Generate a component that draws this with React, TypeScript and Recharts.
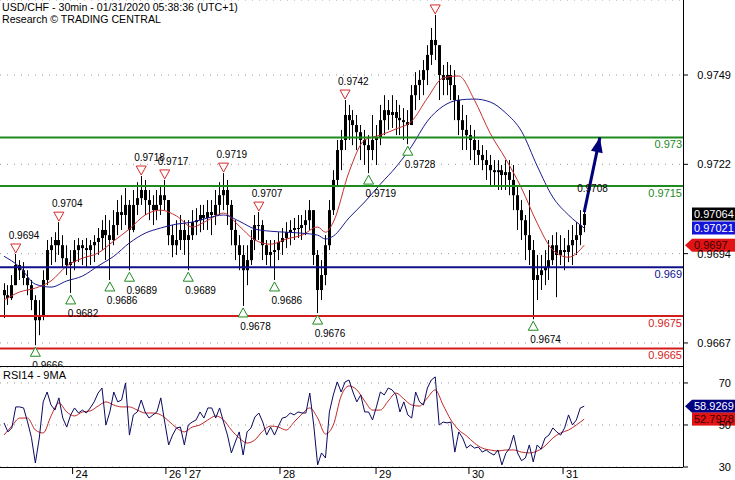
import React from "react";
import {
  ComposedChart,
  Bar,
  Line,
  XAxis,
  YAxis,
  CartesianGrid,
  ReferenceLine,
  ReferenceDot,
} from "recharts";

const FONT = '"Liberation Sans", Arial, sans-serif';
const W = 735;
const MAIN_H = 367;
const RSI_H = 113;
const AXIS_W = 52;

// x = hours since the first bar (hourly bars, Jan 23 -> Jan 31)
const X_MIN = -1.02;
const X_MAX = 173.2;
const P_MIN = 0.96593;
const P_MAX = 0.97723;
const PRICE_TICKS = [0.97492, 0.97217, 0.96942, 0.96667];
const RSI_MIN = 30;
const RSI_MAX = 77.6;
const RSI_TICKS = [30, 50, 70];

const DAY_T = [17.5, 41.3, 46.4, 70.4, 94.9, 118.6, 142.6];
const DAY_LABEL = ["24", "26", "27", "28", "29", "30", "31"];

const FIRST_OPEN = 0.9683;
const HIGH = [
  0.96851, 0.96845, 0.96876, 0.96941, 0.96922, 0.96916, 0.96891, 0.96861, 0.96814, 0.96799,
  0.96891, 0.96984, 0.96993, 0.97008, 0.97039, 0.96999, 0.96968, 0.96953, 0.96984, 0.9699,
  0.96984, 0.9699, 0.96984, 0.96999, 0.97021, 0.97045, 0.97061, 0.97045, 0.97076, 0.97107,
  0.97122, 0.97144, 0.97107, 0.97138, 0.97162, 0.97181, 0.97169, 0.97138, 0.97122, 0.97138,
  0.97153, 0.97169, 0.97107, 0.9703, 0.97045, 0.97061, 0.97045, 0.97045, 0.97076, 0.97082,
  0.97092, 0.97092, 0.97107, 0.97107, 0.97138, 0.97162, 0.9719, 0.97169, 0.97107, 0.97045,
  0.96999, 0.96968, 0.96968, 0.97015, 0.97061, 0.9707, 0.97045, 0.96984, 0.96984, 0.96984,
  0.97008, 0.97021, 0.97039, 0.97045, 0.97052, 0.97061, 0.97061, 0.97076, 0.97107, 0.97076,
  0.96953, 0.96922, 0.96999, 0.97107, 0.97199, 0.97292, 0.97323, 0.97415, 0.974, 0.97384,
  0.97369, 0.97338, 0.97323, 0.97307, 0.97369, 0.97338, 0.974, 0.9743, 0.97415, 0.9743,
  0.97415, 0.974, 0.9739, 0.97384, 0.97461, 0.97501, 0.97507, 0.97538, 0.97584, 0.97637,
  0.97677, 0.97584, 0.97523, 0.97532, 0.97523, 0.97507, 0.9743, 0.974, 0.97369, 0.97338,
  0.97323, 0.97292, 0.97276, 0.97261, 0.97246, 0.9723, 0.9723, 0.97215, 0.9723, 0.9723,
  0.97215, 0.97153, 0.97107, 0.97061, 0.97138, 0.96984, 0.96938, 0.96938, 0.96953, 0.96984,
  0.96999, 0.97008, 0.96999, 0.9699, 0.97015, 0.9703, 0.97039, 0.97076, 0.97085,
];
const LOW = [
  0.96744, 0.96784, 0.96799, 0.96845, 0.96861, 0.96845, 0.96814, 0.96768, 0.9666, 0.96691,
  0.96737, 0.96845, 0.96907, 0.96916, 0.96938, 0.96898, 0.96876, 0.96821, 0.96891, 0.96916,
  0.96907, 0.96898, 0.96907, 0.96916, 0.96938, 0.96953, 0.96922, 0.96861, 0.96968, 0.96999,
  0.97015, 0.9703, 0.96891, 0.97008, 0.97061, 0.97092, 0.97061, 0.97045, 0.9703, 0.97045,
  0.97061, 0.97076, 0.96968, 0.96931, 0.96938, 0.96953, 0.96938, 0.96891, 0.96984, 0.96999,
  0.97008, 0.97015, 0.97015, 0.96999, 0.9703, 0.97061, 0.97076, 0.9703, 0.96968, 0.96922,
  0.96891, 0.96781, 0.96845, 0.96907, 0.96953, 0.96984, 0.96922, 0.96907, 0.96898, 0.96861,
  0.96922, 0.96938, 0.96959, 0.96968, 0.96984, 0.9699, 0.96984, 0.96999, 0.97015, 0.96907,
  0.96759, 0.96799, 0.96845, 0.96953, 0.97061, 0.97153, 0.97199, 0.97261, 0.97292, 0.97276,
  0.97261, 0.9723, 0.97215, 0.9719, 0.9723, 0.97215, 0.97276, 0.97307, 0.97323, 0.97329,
  0.97307, 0.97307, 0.97292, 0.97279, 0.97338, 0.97384, 0.97415, 0.9743, 0.97461, 0.97523,
  0.97538, 0.97415, 0.9743, 0.9743, 0.97415, 0.97353, 0.97307, 0.97261, 0.97261, 0.9723,
  0.97215, 0.97215, 0.97199, 0.97169, 0.97153, 0.97153, 0.97138, 0.97138, 0.97138, 0.97122,
  0.97076, 0.97015, 0.96984, 0.96922, 0.96907, 0.9674, 0.96799, 0.9683, 0.96845, 0.96861,
  0.96907, 0.96808, 0.96907, 0.96891, 0.96916, 0.96907, 0.96938, 0.96968, 0.97008,
];
const CLOSE = [
  0.96814, 0.96805, 0.96845, 0.96907, 0.96891, 0.96867, 0.96845, 0.96799, 0.96737, 0.96753,
  0.96861, 0.96953, 0.96968, 0.96984, 0.96968, 0.96928, 0.96907, 0.96916, 0.96953, 0.96968,
  0.96959, 0.96953, 0.96968, 0.96978, 0.9699, 0.97015, 0.96999, 0.96984, 0.9703, 0.9707,
  0.97061, 0.97092, 0.97015, 0.97092, 0.97113, 0.97138, 0.97107, 0.97092, 0.97076, 0.97092,
  0.97122, 0.97107, 0.96999, 0.96968, 0.96984, 0.97015, 0.96984, 0.96999, 0.97039, 0.97045,
  0.97061, 0.97052, 0.9707, 0.97061, 0.97092, 0.97122, 0.97138, 0.97092, 0.97015, 0.96968,
  0.96938, 0.96891, 0.96922, 0.96984, 0.9703, 0.9703, 0.96968, 0.96938, 0.96947, 0.96953,
  0.96978, 0.9699, 0.97008, 0.97015, 0.97021, 0.97021, 0.9703, 0.97045, 0.97076, 0.96938,
  0.9683, 0.96876, 0.96968, 0.97076, 0.97169, 0.97261, 0.97292, 0.97369, 0.97353, 0.97338,
  0.97316, 0.97292, 0.97276, 0.97261, 0.97292, 0.97298, 0.97353, 0.97384, 0.97369, 0.97378,
  0.9736, 0.97353, 0.97347, 0.97338, 0.9743, 0.97461, 0.97477, 0.97507, 0.97554, 0.976,
  0.97584, 0.97492, 0.97477, 0.97492, 0.97461, 0.97415, 0.97353, 0.97323, 0.97307, 0.97292,
  0.97261, 0.97246, 0.9723, 0.97215, 0.97199, 0.97193, 0.97199, 0.97184, 0.97193, 0.97169,
  0.97122, 0.97076, 0.97045, 0.96999, 0.96953, 0.96861, 0.96876, 0.96891, 0.96898, 0.96922,
  0.96968, 0.96938, 0.96953, 0.96947, 0.96968, 0.96984, 0.96999, 0.9703, 0.97064,
];

// moving averages
const MA_T = [
  0, 4, 8, 12, 16, 20, 24, 28, 32, 36, 40, 44, 48, 52, 56, 60, 64, 68, 72, 76, 80, 82, 84, 88,
  92, 96, 100, 104, 108, 112, 116, 120, 124, 128, 132, 136, 140, 144, 148,
];
const RED_MA = [
  0.96799, 0.96824, 0.96836, 0.96858, 0.96904, 0.96928, 0.96944, 0.96981, 0.97018, 0.97061,
  0.97076, 0.97058, 0.97024, 0.97045, 0.97067, 0.97027, 0.96984, 0.96971, 0.96987, 0.96999,
  0.97024, 0.97008, 0.97039, 0.97193, 0.97292, 0.97307, 0.97326, 0.9735, 0.97421, 0.97483,
  0.97489, 0.97415, 0.97313, 0.97233, 0.97144, 0.97036, 0.96953, 0.96931, 0.96968,
];
const BLUE_MA = [
  0.96934, 0.96901, 0.96848, 0.96839, 0.96858, 0.96873, 0.96904, 0.96934, 0.96975, 0.97005,
  0.97021, 0.97033, 0.97039, 0.97052, 0.97061, 0.97042, 0.97018, 0.97011, 0.97008, 0.97005,
  0.96999, 0.96987, 0.96996, 0.97052, 0.97101, 0.97156, 0.97209, 0.97273, 0.9735, 0.97396,
  0.97415, 0.97418, 0.97409, 0.97375, 0.97319, 0.97212, 0.97116, 0.97061, 0.97021,
];

const LEVELS = [0.973, 0.9715, 0.969, 0.9675, 0.9665];
const LEVEL_KIND = ["res", "res", "pivot", "sup", "sup"];
const LEVEL_COLOR: Record<string, string> = { res: "#1f8a1f", pivot: "#10108a", sup: "#d41c1c" };

const HIGH_PIVOT_T = [3, 14, 35, 41, 56, 65, 87, 110, 148];
const HIGH_PIVOT_LABEL = ["0.9694", "0.9704", "0.9718", "0.9717", "0.9719", "0.9707", "0.9742", "", "0.9708"];
const LOW_PIVOT_T = [8, 17, 27, 32, 47, 61, 69, 80, 93, 103, 135];
const LOW_PIVOT_LABEL = [
  "0.9666", "0.9682", "0.9686", "0.9689", "0.9689", "0.9678", "0.9686", "0.9676", "0.9719", "0.9728", "0.9674",
];

const ARROW_T = [148, 152];
const ARROW_P = [0.9707, 0.973];

// RSI(14), one value per hourly bar; last value from the panel label
const RSI = [
  51.0, 46.7, 48.6, 58.6, 58.6, 58.1, 51.5, 44.0, 31.9, 43.8,
  61.0, 65.7, 59.5, 57.1, 62.9, 53.3, 49.0, 54.8, 58.1, 55.7,
  57.1, 55.7, 58.1, 61.0, 65.2, 67.6, 50.0, 56.2, 65.7, 61.0,
  61.9, 70.0, 45.2, 54.8, 56.2, 61.9, 56.2, 53.3, 54.8, 56.2,
  62.9, 51.4, 40.5, 45.2, 48.6, 49.0, 40.5, 50.0, 51.4, 52.4,
  56.2, 53.3, 58.1, 58.1, 53.3, 58.1, 51.4, 45.2, 36.7, 41.9,
  46.7, 35.7, 46.7, 48.6, 53.8, 55.7, 51.4, 45.2, 49.0, 45.2,
  49.5, 53.3, 53.8, 55.7, 54.8, 56.2, 55.7, 55.7, 65.2, 50.0,
  31.0, 36.7, 34.3, 56.2, 64.3, 70.5, 65.7, 70.5, 71.4, 65.7,
  61.0, 64.3, 56.2, 56.2, 52.4, 58.6, 65.7, 64.3, 67.6, 66.7,
  64.3, 56.2, 61.0, 54.8, 53.3, 65.7, 61.0, 59.5, 67.6, 71.4,
  72.9, 50.0, 51.4, 51.0, 51.4, 37.1, 46.7, 43.8, 39.0, 40.5,
  39.0, 39.5, 37.1, 38.1, 36.7, 35.7, 38.1, 31.0, 36.5, 39.0,
  45.2, 36.7, 33.0, 34.3, 40.5, 32.4, 40.5, 38.5, 43.8, 45.2,
  48.6, 46.7, 45.2, 48.6, 54.8, 50.0, 52.4, 58.1, 58.9269,
];
// 9-period MA of the RSI, one value every 2 hours
const RSI_MA_T = RSI_MA_HOURS();
function RSI_MA_HOURS() {
  const out: number[] = [];
  for (let t = 0; t <= 148; t += 2) out.push(t);
  return out;
}
const RSI_MA = [
  45.2, 49.5, 53.3, 53.3, 47.6, 46.2, 54.3, 60.5, 56.2, 54.3,
  56.2, 56.7, 59.0, 61.0, 59.5, 58.6, 58.6, 57.1, 55.7, 55.7,
  54.8, 51.9, 48.6, 46.7, 49.0, 50.0, 52.4, 54.3, 52.4, 47.6,
  43.8, 41.4, 42.9, 47.1, 49.5, 49.0, 47.6, 51.4, 55.2, 58.1,
  53.3, 45.7, 50.0, 63.8, 68.6, 66.7, 61.4, 57.1, 57.1, 61.4,
  65.2, 62.4, 59.5, 59.0, 62.9, 66.7, 59.5, 52.4, 47.6, 44.8,
  41.4, 39.0, 38.1, 37.6, 38.1, 38.1, 37.1, 36.7, 37.6, 40.0,
  43.8, 46.2, 47.6, 50.0, 52.7978,
];

const LAST = CLOSE.length - 1;

const candleData = CLOSE.map((c, i) => ({
  t: i,
  open: i === 0 ? FIRST_OPEN : CLOSE[i - 1],
  high: HIGH[i],
  low: LOW[i],
  close: c,
  range: [LOW[i], HIGH[i]],
}));
const maData = MA_T.map((t, i) => ({ t, redMa: RED_MA[i], blueMa: BLUE_MA[i] }));
const arrowData = ARROW_T.map((t, i) => ({ t, arrow: ARROW_P[i] }));
const rsiData = RSI.map((v, i) => ({ t: i, rsi: v }));
const rsiMaData = RSI_MA_T.map((t, i) => ({ t, rsiMa: RSI_MA[i] }));

const Candle = (p: any) => {
  const { x, y, width, height, payload } = p;
  if (!payload || payload.open == null || !isFinite(y) || !isFinite(height)) return null;
  const top = Math.min(y, y + height);
  const h = Math.abs(height);
  const span = payload.high - payload.low || 1e-9;
  const toY = (v: number) => top + ((payload.high - v) / span) * h;
  const cx = Math.round(x + width / 2);
  const oy = toY(payload.open);
  const cy = toY(payload.close);
  const bTop = Math.min(oy, cy);
  const bH = Math.max(1, Math.abs(oy - cy));
  return (
    <g>
      <line x1={cx + 0.5} x2={cx + 0.5} y1={top} y2={top + h} stroke="#000" strokeWidth={1} />
      <rect x={cx - 1} y={bTop} width={3} height={bH} fill="#000" />
    </g>
  );
};

const highPivot = (label: string, t: number) => (p: any) => (
  <g>
    {t !== LAST && (
      <polygon
        points={`${p.cx - 5},${p.cy - 10} ${p.cx + 5},${p.cy - 10} ${p.cx},${p.cy - 1}`}
        fill="#fff"
        stroke="#d42a2a"
        strokeWidth={1}
      />
    )}
    {label && (
      <text x={p.cx - 7} y={p.cy - 15} fontSize={10} fontFamily={FONT} fill="#000">
        {label}
      </text>
    )}
  </g>
);

const lowPivot = (label: string) => (p: any) => (
  <g>
    <polygon
      points={`${p.cx},${p.cy + 2} ${p.cx - 5},${p.cy + 11} ${p.cx + 5},${p.cy + 11}`}
      fill="#fff"
      stroke="#1f8a1f"
      strokeWidth={1}
    />
    <text x={p.cx - 3} y={p.cy + 24} fontSize={10} fontFamily={FONT} fill="#000">
      {label}
    </text>
  </g>
);

const badge = (text: string, bg: string, fg: string, pointer: boolean) => (p: any) => {
  const x0 = p.cx + 9;
  const top = p.cy - 6.5;
  return (
    <g>
      {pointer && (
        <polygon points={`${p.cx + 2},${p.cy} ${x0},${top} ${x0},${top + 13}`} fill={bg} />
      )}
      <rect x={x0} y={top} width={W - x0} height={13} fill={bg} />
      <text x={x0 + 2} y={p.cy + 4} fontSize={11} fontFamily={FONT} fill={fg}>
        {text}
      </text>
    </g>
  );
};

const ArrowHead = (p: any) => {
  if (!p.payload || p.payload.t !== ARROW_T[ARROW_T.length - 1]) return <g key={p.key} />;
  let ang = -1.35;
  const pts = p.points;
  if (pts && pts.length > 1) {
    const a = pts[pts.length - 2];
    const b = pts[pts.length - 1];
    if (a && b && a.y != null && b.y != null) ang = Math.atan2(b.y - a.y, b.x - a.x);
  }
  const L = 15;
  const Wd = 6;
  const bx = p.cx - L * Math.cos(ang);
  const by = p.cy - L * Math.sin(ang);
  const nx = -Math.sin(ang) * Wd;
  const ny = Math.cos(ang) * Wd;
  return (
    <polygon
      key={p.key}
      points={`${p.cx},${p.cy} ${bx + nx},${by + ny} ${bx - nx},${by - ny}`}
      fill="#00007a"
    />
  );
};

const PriceTick = (p: any) => (
  <text x={W - 4} y={p.y} dy="0.35em" textAnchor="end" fontSize={11} fontFamily={FONT} fill="#000">
    {Number(p.payload.value).toFixed(4)}
  </text>
);

const RsiTick = (p: any) => (
  <text x={W - 4} y={p.y} dy="0.35em" textAnchor="end" fontSize={11} fontFamily={FONT} fill="#000">
    {Number(p.payload.value).toFixed(0)}
  </text>
);

const DayTick = (p: any) => {
  const i = DAY_T.indexOf(p.payload.value);
  return (
    <text x={p.x + 3} y={p.y + 4} fontSize={11} fontFamily={FONT} fill="#000">
      {DAY_LABEL[i]}
    </text>
  );
};

const levelLabel = (v: number, color: string) => (p: any) => {
  const vb = p.viewBox || {};
  return (
    <text x={vb.x + vb.width - 1} y={vb.y + 11} textAnchor="end" fontSize={11} fontFamily={FONT} fill={color}>
      {String(v)}
    </text>
  );
};

export default function App() {
  return (
    <div
      style={{
        position: "absolute",
        left: 0,
        top: 0,
        width: W,
        height: 480,
        background: "#fff",
        overflow: "hidden",
        fontFamily: FONT,
      }}
    >
      <div style={{ position: "absolute", left: 0, top: 0 }}>
        <ComposedChart
          width={W}
          height={MAIN_H}
          data={candleData}
          margin={{ top: 0, right: 0, bottom: 0, left: 0 }}
        >
          <CartesianGrid vertical={false} stroke="#9a9a9a" strokeDasharray="1 6" />
          <XAxis dataKey="t" type="number" domain={[X_MIN, X_MAX]} allowDataOverflow hide />
          <YAxis
            orientation="right"
            width={AXIS_W}
            domain={[P_MIN, P_MAX]}
            ticks={PRICE_TICKS}
            allowDataOverflow
            tick={<PriceTick />}
            tickSize={5}
            tickLine={{ stroke: "#000" }}
            axisLine={{ stroke: "#000", shapeRendering: "crispEdges" }}
          />
          <Bar dataKey="range" barSize={3} shape={<Candle />} isAnimationActive={false} />
          <Line
            data={maData}
            dataKey="redMa"
            type="monotone"
            stroke="#c83030"
            strokeWidth={1}
            dot={false}
            activeDot={false}
            isAnimationActive={false}
          />
          <Line
            data={maData}
            dataKey="blueMa"
            type="monotone"
            stroke="#1a1a90"
            strokeWidth={1}
            dot={false}
            activeDot={false}
            isAnimationActive={false}
          />
          {LEVELS.map((v, i) => (
            <ReferenceLine
              key={"lv" + i}
              y={v}
              stroke={LEVEL_COLOR[LEVEL_KIND[i]]}
              strokeWidth={2}
              label={levelLabel(v, LEVEL_COLOR[LEVEL_KIND[i]])}
            />
          ))}
          {HIGH_PIVOT_T.map((t, i) => (
            <ReferenceDot key={"hp" + i} x={t} y={HIGH[t]} shape={highPivot(HIGH_PIVOT_LABEL[i], t)} />
          ))}
          {LOW_PIVOT_T.map((t, i) => (
            <ReferenceDot key={"lp" + i} x={t} y={LOW[t]} shape={lowPivot(LOW_PIVOT_LABEL[i])} />
          ))}
          <Line
            data={arrowData}
            dataKey="arrow"
            stroke="#00007a"
            strokeWidth={3}
            dot={ArrowHead}
            activeDot={false}
            isAnimationActive={false}
          />
          <ReferenceDot x={X_MAX} y={CLOSE[LAST]} shape={badge(CLOSE[LAST].toFixed(5), "#000", "#fff", false)} />
          <ReferenceDot
            x={X_MAX}
            y={BLUE_MA[BLUE_MA.length - 1]}
            shape={badge(BLUE_MA[BLUE_MA.length - 1].toFixed(5), "#1414d8", "#fff", false)}
          />
          <ReferenceDot
            x={X_MAX}
            y={RED_MA[RED_MA.length - 1]}
            shape={badge(RED_MA[RED_MA.length - 1].toFixed(4), "#e01414", "#3a0000", true)}
          />
        </ComposedChart>
      </div>

      <div style={{ position: "absolute", left: 0, top: MAIN_H }}>
        <ComposedChart
          width={W}
          height={RSI_H}
          data={rsiData}
          margin={{ top: 0, right: 0, bottom: 0, left: 0 }}
        >
          <CartesianGrid vertical={false} stroke="#9a9a9a" strokeDasharray="1 6" />
          <XAxis
            dataKey="t"
            type="number"
            domain={[X_MIN, X_MAX]}
            allowDataOverflow
            ticks={DAY_T}
            interval={0}
            height={13}
            tickSize={7}
            tickMargin={0}
            tick={<DayTick />}
            tickLine={{ stroke: "#000" }}
            axisLine={{ stroke: "#000", shapeRendering: "crispEdges" }}
          />
          <YAxis
            orientation="right"
            width={AXIS_W}
            domain={[RSI_MIN, RSI_MAX]}
            ticks={RSI_TICKS}
            allowDataOverflow
            tick={<RsiTick />}
            tickSize={5}
            tickLine={{ stroke: "#000" }}
            axisLine={{ stroke: "#000", shapeRendering: "crispEdges" }}
          />
          <Line
            data={rsiMaData}
            dataKey="rsiMa"
            type="monotone"
            stroke="#c02828"
            strokeWidth={1}
            dot={false}
            activeDot={false}
            isAnimationActive={false}
          />
          <Line
            dataKey="rsi"
            type="linear"
            stroke="#0a0a60"
            strokeWidth={1}
            dot={false}
            activeDot={false}
            isAnimationActive={false}
          />
          <ReferenceDot
            x={X_MAX}
            y={RSI[RSI.length - 1]}
            shape={badge(RSI[RSI.length - 1].toFixed(4), "#000080", "#fff", true)}
          />
          <ReferenceDot
            x={X_MAX}
            y={RSI_MA[RSI_MA.length - 1]}
            shape={badge(RSI_MA[RSI_MA.length - 1].toFixed(4), "#e01414", "#3a0000", false)}
          />
        </ComposedChart>
      </div>

      <div style={{ position: "absolute", left: 0, top: MAIN_H - 1, width: W - AXIS_W + 1, height: 1, background: "#000" }} />

      <div style={{ position: "absolute", left: 2, top: 1, fontSize: 10.6, lineHeight: "12px", color: "#000" }}>
        <div>USD/CHF - 30min - 01/31/2020 05:38:36 (UTC+1)</div>
        <div>Research © TRADING CENTRAL</div>
      </div>
      <div style={{ position: "absolute", left: 3, top: MAIN_H + 2, fontSize: 11, lineHeight: "12px", color: "#000" }}>
        RSI14 - 9MA
      </div>
    </div>
  );
}
